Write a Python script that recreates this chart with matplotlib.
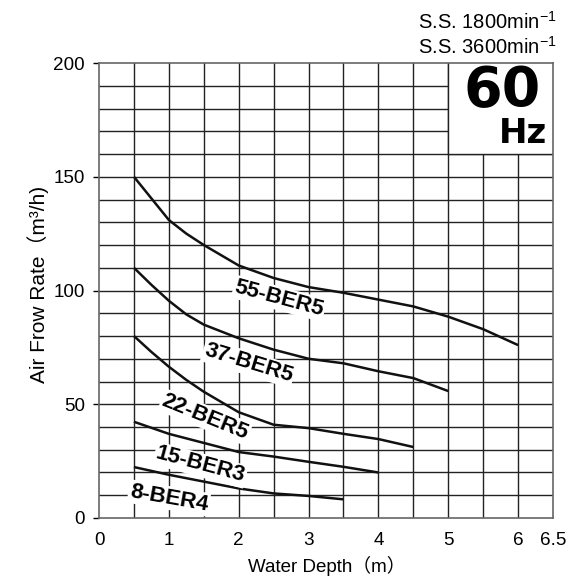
import matplotlib.pyplot as plt
from matplotlib.patches import Rectangle

plt.rcParams["font.family"] = ["Liberation Sans", "Noto Sans CJK JP", "DejaVu Sans"]
plt.rcParams["mathtext.fontset"] = "custom"
plt.rcParams["mathtext.rm"] = "Liberation Sans"

# curves: water depth (m) -> air flow (m3/h)
x_55 = [0.5, 0.75, 1, 1.25, 1.5, 2, 2.5, 3, 3.5, 4, 4.5, 5, 5.5, 6]
y_55 = [150, 140.5, 131, 125, 120, 111, 105.5, 101.5, 99, 96, 93, 88.5, 83, 76]
x_37 = [0.5, 0.75, 1, 1.25, 1.5, 2, 2.5, 3, 3.5, 4, 4.5, 5]
y_37 = [110, 102.5, 95.5, 89.5, 85, 79, 74, 70, 68, 64.5, 61.5, 55.8]
x_22 = [0.5, 0.75, 1, 1.25, 1.5, 2, 2.5, 3, 3.5, 4, 4.5]
y_22 = [80, 73, 66.5, 60.7, 55.5, 46.5, 41, 39.5, 37, 34.7, 31.2]
x_15 = [0.5, 1, 1.5, 2, 2.5, 3, 3.5, 4]
y_15 = [42.3, 37, 33, 29, 27, 24.7, 22.5, 20]
x_8 = [0.5, 1, 1.5, 2, 2.5, 3, 3.5]
y_8 = [22.4, 19, 16, 13, 10.8, 9.7, 8.2]

series = [
    (x_55, y_55, "55-BER5", 2.58, 96.5, -15),
    (x_37, y_37, "37-BER5", 2.14, 68, -17),
    (x_22, y_22, "22-BER5", 1.52, 44.4, -22),
    (x_15, y_15, "15-BER3", 1.45, 23.3, -15),
    (x_8, y_8, "8-BER4", 1.0, 8.8, -10),
]

xticks = [0, 1, 2, 3, 4, 5, 6, 6.5]
yticks = [0, 50, 100, 150, 200]

fig = plt.figure(figsize=(5.68, 5.76), dpi=100)
ax = fig.add_axes([0.1743, 0.1007, 0.7993, 0.7899])
ax.set_xlim(0, 6.5)
ax.set_ylim(0, 200)

# grid
for gx in [i * 0.5 for i in range(1, 13)]:
    ax.axvline(gx, color="#222222", lw=1.0, zorder=1)
for gy in range(10, 200, 10):
    ax.axhline(gy, color="#222222", lw=1.0, zorder=1)

# 60 Hz box
ax.add_patch(Rectangle((5, 160), 1.5, 40, facecolor="white", edgecolor="none", zorder=2))
ax.plot([5, 5], [160, 200], color="#222222", lw=1.0, zorder=2)
ax.plot([5, 6.5], [160, 160], color="#222222", lw=1.0, zorder=2)
ax.text(5.77, 187.5, "60", fontsize=40, fontweight="bold", family="DejaVu Sans",
        ha="center", va="center", zorder=3)
ax.text(6.41, 168.8, "Hz", fontsize=24.5, fontweight="bold", family="DejaVu Sans",
        ha="right", va="center", zorder=3)

for xs, ys, name, lx, ly, rot in series:
    ax.plot(xs, ys, color="#111111", lw=1.8, zorder=3, solid_capstyle="butt")
    ax.text(lx, ly, name, fontsize=16, fontweight="bold", rotation=rot,
            rotation_mode="anchor", ha="center", va="center", zorder=4,
            bbox=dict(facecolor="white", edgecolor="none", pad=1.0))

ax.set_xticks(xticks)
ax.set_xticklabels(["0", "1", "2", "3", "4", "5", "6", "6.5"])
ax.set_yticks(yticks)
ax.tick_params(axis="x", length=0, labelsize=13.6, pad=10)
ax.tick_params(axis="y", length=4, width=1, labelsize=13.6, pad=6)
for s in ax.spines.values():
    s.set_color("#666666")
    s.set_linewidth(1.2)

ax.set_xlabel("Water Depth（m）", fontsize=13.5, va="center")
ax.xaxis.set_label_coords(0.501, -0.106)
ax.set_ylabel("Air Frow Rate（m³/h)", fontsize=15, va="center")
ax.yaxis.set_label_coords(-0.135, 0.513)

fig.text(0.979, 0.962, "S.S. 1800min$^{-1}$", fontsize=14.5, ha="right", va="center")
fig.text(0.979, 0.918, "S.S. 3600min$^{-1}$", fontsize=14.5, ha="right", va="center")

fig.savefig("out.png", dpi=100)
